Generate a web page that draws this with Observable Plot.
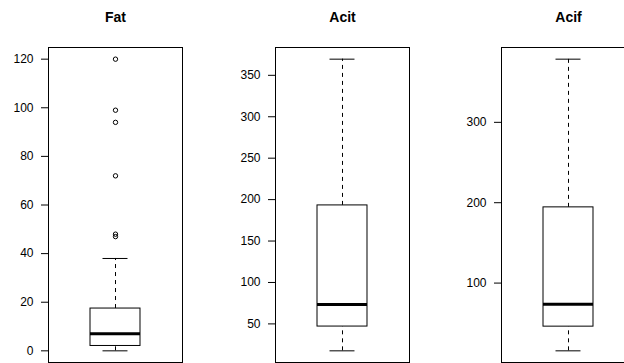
<!DOCTYPE html>
<html>
<head>
<meta charset="utf-8">
<script src="https://cdn.jsdelivr.net/npm/d3@7"></script>
<script src="https://cdn.jsdelivr.net/npm/@observablehq/plot@0.6"></script>
<style>
  html, body { margin: 0; padding: 0; background: #fff; }
  #wrap { position: relative; width: 624px; height: 363px; overflow: hidden; }
  #wrap > div { position: absolute; top: 0; }
  #wrap svg { display: block; max-width: none !important; }
</style>
</head>
<body>
<div id="wrap"></div>
<script>
// Box-plot summaries (per variable)
const names        = ["Fat", "Acit", "Acif"];
const lowerWhisker = [0, 17.5, 15.7];
const lowerHinge   = [2, 46.8, 45.8];
const medians      = [7, 73.5, 73.6];
const upperHinge   = [17.4, 193, 194.2];
const upperWhisker = [38, 369.5, 378.6];
const outliers     = [[120, 99, 94, 72, 48, 47], [], []];
const tickValues   = [
  [0, 20, 40, 60, 80, 100, 120],
  [50, 100, 150, 200, 250, 300, 350],
  [100, 200, 300]
];

const offsets = [0, 227, 453];
const widths  = [227, 226, 227];
const wrap = document.getElementById("wrap");

names.forEach((name, i) => {
  const row = [{name, lo: lowerWhisker[i], q1: lowerHinge[i], med: medians[i], q3: upperHinge[i], hi: upperWhisker[i]}];
  const outs = outliers[i].map(v => ({name, v}));
  const all = [lowerWhisker[i], upperWhisker[i], ...outliers[i]];
  const mn = d3.min(all), mx = d3.max(all), r = mx - mn;
  const W = widths[i];
  const chart = Plot.plot({
    width: W,
    height: 363,
    marginTop: 47,
    marginBottom: 1,
    marginLeft: 48,
    marginRight: W - 48 - 134,
    style: {fontFamily: "'Liberation Sans', Arial, Helvetica, sans-serif", fontSize: "12px", color: "#000", background: "#fff", maxWidth: "none"},
    x: {type: "band", domain: [name], padding: 0.4566, round: false, axis: null},
    y: {domain: [mn - 0.04 * r, mx + 0.04 * r], axis: null},
    marks: [
      Plot.frame({stroke: "#000", strokeWidth: 1}),
      Plot.axisY(tickValues[i], {tickSize: 7, tickPadding: 8, label: null, fontSize: 12, stroke: "#000"}),
      Plot.ruleX(row, {x: "name", y1: "q3", y2: "hi", stroke: "#000", strokeDasharray: "4,4"}),
      Plot.ruleX(row, {x: "name", y1: "lo", y2: "q1", stroke: "#000", strokeDasharray: "4,4"}),
      Plot.tickY(row, {x: "name", y: "hi", stroke: "#000", insetLeft: 12.5, insetRight: 12.5}),
      Plot.tickY(row, {x: "name", y: "lo", stroke: "#000", insetLeft: 12.5, insetRight: 12.5}),
      Plot.barY(row, {x: "name", y1: "q1", y2: "q3", fill: "#fff", stroke: "#000", strokeWidth: 1}),
      Plot.tickY(row, {x: "name", y: "med", stroke: "#000", strokeWidth: 3}),
      Plot.dot(outs, {x: "name", y: "v", r: 2.2, stroke: "#000", strokeWidth: 1, fill: "none"}),
      Plot.text([name], {text: d => d, frameAnchor: "top", lineAnchor: "middle", dy: -30, fontWeight: "bold", fontSize: 14, fill: "#000"})
    ]
  });
  const holder = document.createElement("div");
  holder.style.left = offsets[i] + "px";
  holder.style.width = W + "px";
  holder.appendChild(chart);
  wrap.appendChild(holder);
});
</script>
</body>
</html>
